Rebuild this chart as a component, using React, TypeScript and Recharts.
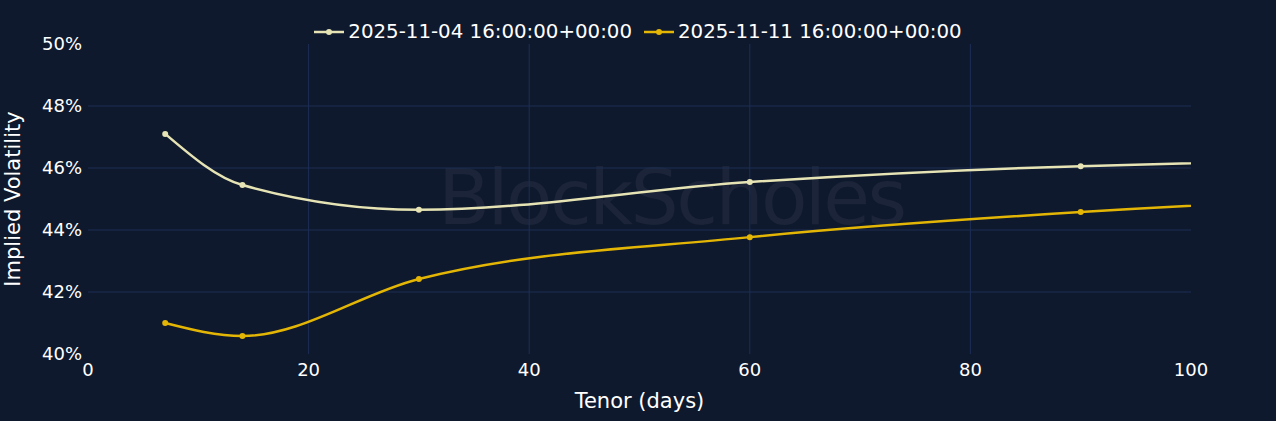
import React from 'react';
import { LineChart, Line, XAxis, YAxis, ReferenceLine } from 'recharts';

const tenors = [7, 14, 30, 60, 90, 180];
const volNov04 = [47.1, 45.45, 44.65, 45.55, 46.06, 46.51];
const volNov11 = [41.0, 40.58, 42.42, 43.77, 44.58, 45.57];
const seriesNames = ['2025-11-04 16:00:00+00:00', '2025-11-11 16:00:00+00:00'];
const seriesColors = ['#e6e4b4', '#e3b505'];
const xTicks = [0, 20, 40, 60, 80, 100];
const yTicks = [40, 42, 44, 46, 48, 50];
const xGrid = [20, 40, 60, 80];
const yGrid = [42, 44, 46, 48];

const data = tenors.map((t, i) => ({ tenor: t, a: volNov04[i], b: volNov11[i] }));

const FONT = '"DejaVu Sans", Verdana, sans-serif';
const BG = '#0f192d';
const GRID = '#1d2d55';

function LegendBar() {
  return (
    <div
      style={{
        position: 'absolute',
        top: 20,
        left: 0,
        width: 1276,
        display: 'flex',
        justifyContent: 'center',
        gap: 12,
        fontFamily: FONT,
        fontSize: 19.8,
        color: '#ffffff',
      }}
    >
      {seriesNames.map((name, i) => (
        <div key={name} style={{ display: 'flex', alignItems: 'center' }}>
          <svg width={30} height={10} style={{ marginRight: 4 }}>
            <line x1={0} y1={5} x2={30} y2={5} stroke={seriesColors[i]} strokeWidth={2.5} />
            <circle cx={15} cy={5} r={3} fill={seriesColors[i]} />
          </svg>
          <span>{name}</span>
        </div>
      ))}
    </div>
  );
}

export default function App() {
  return (
    <div style={{ position: 'absolute', left: 0, top: 0, width: 1276, height: 421, background: BG, overflow: 'hidden' }}>
      <div
        style={{
          position: 'absolute',
          left: 438,
          top: 153,
          fontFamily: FONT,
          fontSize: 76,
          lineHeight: 'normal',
          color: '#1b2438',
          letterSpacing: -2.6,
        }}
      >
        BlockScholes
      </div>
      <LegendBar />
      <div style={{ position: 'absolute', left: 0, top: 0 }}>
        <LineChart width={1276} height={421} data={data} margin={{ top: 44, right: 85, bottom: 0, left: 0 }}>
          <XAxis
            dataKey="tenor"
            type="number"
            domain={[0, 100]}
            allowDataOverflow
            ticks={xTicks}
            axisLine={false}
            tickLine={false}
            tickSize={0}
            tickMargin={9}
            height={67}
            tick={{ fill: '#ffffff', fontSize: 18, fontFamily: FONT }}
            label={{ value: 'Tenor (days)', position: 'insideBottom', offset: 13, fill: '#ffffff', fontSize: 21, fontFamily: FONT }}
          />
          <YAxis
            type="number"
            domain={[40, 50]}
            allowDataOverflow
            ticks={yTicks}
            tickFormatter={(v) => `${v}%`}
            axisLine={false}
            tickLine={false}
            tickSize={0}
            tickMargin={6}
            width={88}
            tick={{ fill: '#ffffff', fontSize: 18, fontFamily: FONT }}
            label={{ value: 'Implied Volatility', angle: -90, position: 'insideLeft', offset: 13, fill: '#ffffff', fontSize: 21, fontFamily: FONT, style: { textAnchor: 'middle' } }}
          />
          {yGrid.map((v) => (
            <ReferenceLine key={`h${v}`} y={v} stroke={GRID} strokeWidth={1} />
          ))}
          {xGrid.map((v) => (
            <ReferenceLine key={`v${v}`} x={v} stroke={GRID} strokeWidth={1} />
          ))}
          <Line
            type="monotone"
            dataKey="a"
            name={seriesNames[0]}
            stroke={seriesColors[0]}
            strokeWidth={2.5}
            dot={{ r: 3, fill: seriesColors[0], stroke: seriesColors[0], strokeWidth: 0 }}
            activeDot={false}
            isAnimationActive={false}
          />
          <Line
            type="monotone"
            dataKey="b"
            name={seriesNames[1]}
            stroke={seriesColors[1]}
            strokeWidth={2.5}
            dot={{ r: 3, fill: seriesColors[1], stroke: seriesColors[1], strokeWidth: 0 }}
            activeDot={false}
            isAnimationActive={false}
          />
        </LineChart>
      </div>
    </div>
  );
}
